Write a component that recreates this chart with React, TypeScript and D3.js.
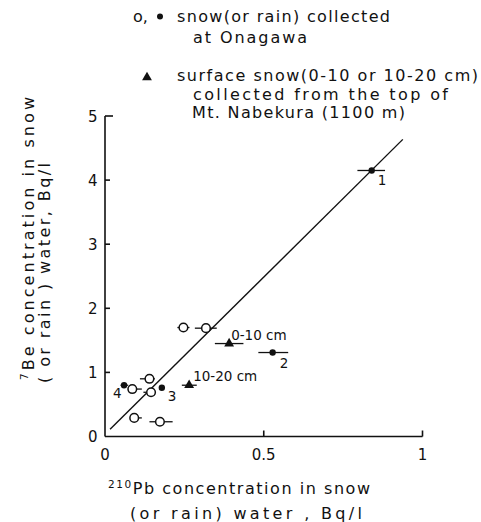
import React from "react";
import * as d3 from "d3";

// Onagawa open circles (snow or rain)
const openX = [0.247, 0.318, 0.140, 0.086, 0.145, 0.092, 0.173];
const openY = [1.70, 1.69, 0.90, 0.74, 0.69, 0.29, 0.23];
const openLo = [0.228, 0.283, 0.110, 0.072, 0.121, 0.079, 0.140];
const openHi = [0.266, 0.352, 0.157, 0.116, 0.157, 0.116, 0.213];

// Onagawa filled circles (numbered)
const filledLabels = ["1", "2", "3", "4"];
const filledX = [0.840, 0.528, 0.179, 0.060];
const filledY = [4.15, 1.31, 0.76, 0.80];
const filledLo = [0.795, 0.483, 0.179, 0.049];
const filledHi = [0.882, 0.577, 0.179, 0.073];

// Mt. Nabekura triangles
const triLabels = ["0-10 cm", "10-20 cm"];
const triX = [0.391, 0.265];
const triY = [1.45, 0.80];
const triLo = [0.346, 0.242];
const triHi = [0.436, 0.289];

// regression line
const lineXs = [0.016, 0.938];
const slope = 4.906;
const intercept = 0.0335;

const xTicks = [0, 0.5, 1];
const xTickLabels = ["0", "0.5", "1"];
const yTicks = [0, 1, 2, 3, 4, 5];

export default function App() {
  const x = d3.scaleLinear().domain([0, 1]).range([105, 422.5]);
  const y = d3.scaleLinear().domain([0, 5]).range([436.5, 116]);
  const font = "'DejaVu Sans', 'Liberation Sans', sans-serif";
  const tri = d3.symbol().type(d3.symbolTriangle).size(42)();
  const lineGen = d3.line<number>().x((d) => x(d)).y((d) => y(slope * d + intercept));

  const filledLabelOffsets = [
    [6, 15],
    [7, 15],
    [6, 13],
    [-11, 13],
  ];
  const triLabelOffsets = [
    [2, -4],
    [4, -4],
  ];

  return (
    <svg width={481} height={522} style={{ position: "absolute", left: 0, top: 0, background: "#fff" }} fontFamily={font}>
      <rect width={481} height={522} fill="#fff" />
      {/* Legend */}
      <g fontSize={16} fill="#111">
        <text x={133} y={22}>o,</text>
        <circle cx={160} cy={16.5} r={3} fill="#111" />
        <text x={177} y={22} textLength={213} lengthAdjust="spacing">snow(or rain) collected</text>
        <text x={193} y={43} textLength={114} lengthAdjust="spacing">at Onagawa</text>
        <path d={tri} transform="translate(147,77.5)" fill="#111" />
        <text x={177} y={81} textLength={301} lengthAdjust="spacing">surface snow(0-10 or 10-20 cm)</text>
        <text x={193} y={100} textLength={255} lengthAdjust="spacing">collected from the top of</text>
        <text x={192} y={118} textLength={213} lengthAdjust="spacing">Mt. Nabekura (1100 m)</text>
      </g>

      {/* Axes */}
      <g stroke="#111" strokeWidth={1.6} fill="none">
        <line x1={x(0)} x2={x(1)} y1={y(0)} y2={y(0)} />
        <line x1={x(0)} x2={x(0)} y1={y(0)} y2={y(5)} />
        {xTicks.slice(1).map((t) => (
          <line key={"xt" + t} x1={x(t)} x2={x(t)} y1={y(0)} y2={y(0) - 6} />
        ))}
        {yTicks.slice(1).map((t) => (
          <line key={"yt" + t} x1={x(0)} x2={x(0) + (t === 5 ? 8 : 5)} y1={y(t)} y2={y(t)} />
        ))}
      </g>
      <g fontSize={15} fill="#111">
        {xTicks.map((t, i) => (
          <text key={"xl" + t} x={x(t)} y={459.5} textAnchor="middle">{xTickLabels[i]}</text>
        ))}
        {yTicks.map((t) => (
          <text key={"yl" + t} x={97.5} y={y(t) + 5.5} textAnchor="end">{t}</text>
        ))}
      </g>

      {/* Axis titles */}
      <g fontSize={16} fill="#111">
        <text x={108} y={494} textLength={262} lengthAdjust="spacing">
          <tspan fontSize={10.5} dy={-6}>210</tspan>
          <tspan dy={6}>Pb concentration in snow</tspan>
        </text>
        <text x={130} y={519} textLength={232} lengthAdjust="spacing">(or rain)  water ,   Bq/l</text>
        <text transform="translate(34,380) rotate(-90)" textLength={283} lengthAdjust="spacing">
          <tspan fontSize={10.5} dy={-6}>7</tspan>
          <tspan dy={6}>Be concentration in snow</tspan>
        </text>
        <text transform="translate(50,383) rotate(-90)" textLength={220} lengthAdjust="spacing">( or rain ) water,   Bq/l</text>
      </g>

      {/* Regression line */}
      <path d={lineGen(lineXs) || ""} stroke="#111" strokeWidth={1.4} fill="none" />

      {/* Error bars */}
      <g stroke="#111" strokeWidth={1.3}>
        {openX.map((_, i) => (
          <line key={"oe" + i} x1={x(openLo[i])} x2={x(openHi[i])} y1={y(openY[i])} y2={y(openY[i])} />
        ))}
        {filledX.map((_, i) => (
          <line key={"fe" + i} x1={x(filledLo[i])} x2={x(filledHi[i])} y1={y(filledY[i])} y2={y(filledY[i])} />
        ))}
        {triX.map((_, i) => (
          <line key={"te" + i} x1={x(triLo[i])} x2={x(triHi[i])} y1={y(triY[i])} y2={y(triY[i])} />
        ))}
      </g>

      {/* Markers */}
      {openX.map((v, i) => (
        <circle key={"o" + i} cx={x(v)} cy={y(openY[i])} r={4.3} fill="#fff" stroke="#111" strokeWidth={1.5} />
      ))}
      {filledX.map((v, i) => (
        <circle key={"f" + i} cx={x(v)} cy={y(filledY[i])} r={3.2} fill="#111" />
      ))}
      {triX.map((v, i) => (
        <path key={"t" + i} d={tri} transform={`translate(${x(v)},${y(triY[i])})`} fill="#111" />
      ))}

      {/* Point labels */}
      <g fontSize={13.5} fill="#111">
        {filledX.map((v, i) => (
          <text key={"fl" + i} x={x(v) + filledLabelOffsets[i][0]} y={y(filledY[i]) + filledLabelOffsets[i][1]}>
            {filledLabels[i]}
          </text>
        ))}
        {triX.map((v, i) => (
          <text key={"tl" + i} x={x(v) + triLabelOffsets[i][0]} y={y(triY[i]) + triLabelOffsets[i][1]}>
            {triLabels[i]}
          </text>
        ))}
      </g>
    </svg>
  );
}
